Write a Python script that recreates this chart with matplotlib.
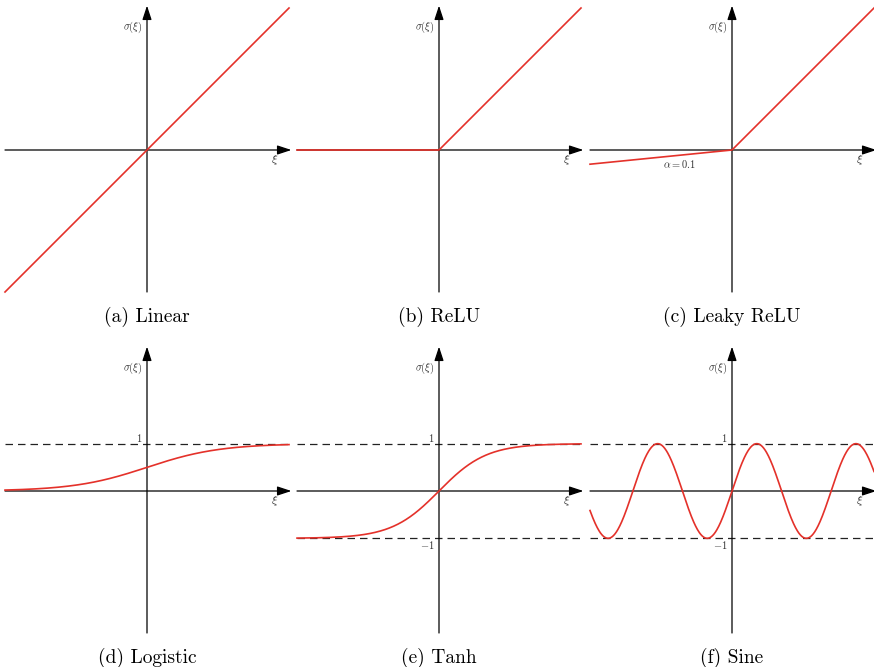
import numpy as np
import matplotlib
matplotlib.use("Agg")
import matplotlib.pyplot as plt

plt.rcParams['mathtext.fontset'] = 'cm'
plt.rcParams['font.family'] = 'serif'
plt.rcParams['font.serif'] = ['cmr10', 'DejaVu Serif']
plt.rcParams['axes.unicode_minus'] = False

# activation functions, sampled over the plotted range
xi = np.linspace(-3, 3, 601)
alpha = 0.1
slope = 1.3  # steepness of the logistic curve
captions = ["(a) Linear", "(b) ReLU", "(c) Leaky ReLU",
            "(d) Logistic", "(e) Tanh", "(f) Sine"]
curves = [
    xi,
    np.maximum(xi, 0),
    np.where(xi > 0, xi, alpha * xi),
    1 / (1 + np.exp(-slope * xi)),
    np.tanh(xi),
    np.sin(3 * xi),
]
# horizontal guide levels for each panel
guides = [[], [], [], [1], [1, -1], [1, -1]]

RED = '#e4312a'
W, H = 874, 667
fig = plt.figure(figsize=(W / 100, H / 100), dpi=100)

col_x = [5, 297, 590]
row_y = [8, 349]
size = 284


def draw_panel(ax, y, levels, caption, extra=None):
    ax.set_xlim(-3, 3)
    ax.set_ylim(-3, 3)
    ax.axis('off')
    for lv in levels:
        ax.plot([-3, 3], [lv, lv], color='#222222', lw=0.9,
                dashes=(6, 4))
    arrow = dict(arrowstyle='-|>,head_length=0.85,head_width=0.28',
                 color='black', lw=0.9, shrinkA=0, shrinkB=0)
    ax.annotate('', xy=(3.05, 0), xytext=(-3, 0), arrowprops=arrow,
                annotation_clip=False)
    ax.annotate('', xy=(0, 3.05), xytext=(0, -3), arrowprops=arrow,
                annotation_clip=False)
    ax.plot(xi, y, color=RED, lw=1.2, zorder=5, clip_on=False)
    ax.text(-0.1, 2.6, r'$\sigma(\xi)$', ha='right', va='center',
            fontsize=7.5, color='#333333')
    ax.text(2.7, -0.22, r'$\xi$', ha='center', va='center',
            fontsize=8.5, color='#333333')
    if 1 in levels:
        ax.text(-0.1, 1.13, r'$1$', ha='right', va='center',
                fontsize=7.5, color='#333333')
    if -1 in levels:
        ax.text(-0.1, -1.15, r'$-1$', ha='right', va='center',
                fontsize=7.5, color='#333333')
    if extra:
        ax.text(*extra[:2], extra[2], ha='center', va='center',
                fontsize=7.5, color='#333333')
    ax.text(0, -3.53, caption, ha='center', va='center', fontsize=14)


for i in range(6):
    r, c = divmod(i, 3)
    left = col_x[c] / W
    bottom = 1 - (row_y[r] + size) / H
    ax = fig.add_axes([left, bottom, size / W, size / H])
    extra = (-1.1, -0.3, r'$\alpha = 0.1$') if i == 2 else None
    draw_panel(ax, curves[i], guides[i], captions[i], extra)

fig.savefig('out.png', dpi=100)
